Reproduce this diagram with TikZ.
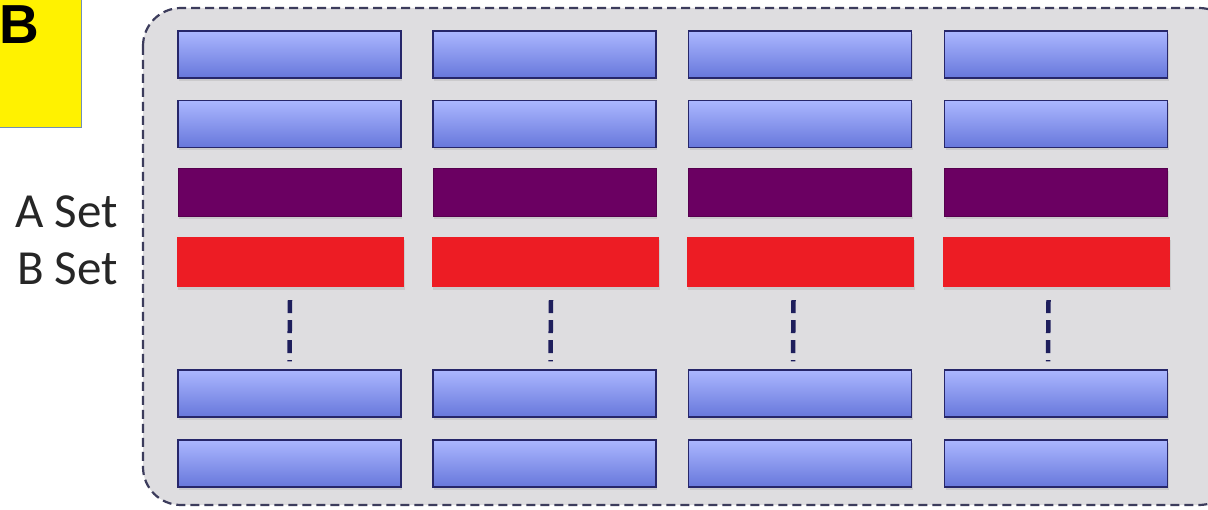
\documentclass[tikz,border=0pt]{standalone}
\usepackage{fontspec}
\setmainfont{Carlito}
\newfontfamily\tagfont{Liberation Sans}
\usepackage{xcolor}
\usepackage{tikz}
\usetikzlibrary{shadows}

\definecolor{panelgray}{HTML}{DEDDE0}
\definecolor{panelline}{HTML}{3C3C5C}
\definecolor{bartop}{HTML}{ABB7FF}
\definecolor{barbot}{HTML}{6777DB}
\definecolor{barline}{HTML}{26266A}
\definecolor{asetcol}{HTML}{6B0062}
\definecolor{bsetcol}{HTML}{ED1C24}
\definecolor{gapline}{HTML}{1E1E5C}
\definecolor{tagyellow}{HTML}{FFF200}
\definecolor{tagedge}{HTML}{7090B8}

\begin{document}
\begin{tikzpicture}[x=1pt, y=-1pt,
        panel/.style={fill=panelgray, draw=panelline, line width=2.2pt, dash pattern=on 9pt off 5pt, rounded corners=38pt},
        bar/.style={draw=barline, line width=1.2pt, minimum width=223pt, minimum height=47pt, inner sep=0pt,
            top color=bartop, bottom color=barbot, drop shadow={opacity=0.2, shadow xshift=1pt, shadow yshift=-3pt}},
        abar/.style={fill=asetcol, draw=asetcol!80!black, line width=1pt, minimum width=223pt, minimum height=48pt, inner sep=0pt,
            drop shadow={opacity=0.2, shadow xshift=1pt, shadow yshift=-3pt}},
        bbar/.style={fill=bsetcol, minimum width=227pt, minimum height=50pt, inner sep=0pt,
            drop shadow={opacity=0.2, shadow xshift=1pt, shadow yshift=-3pt}},
        gap/.style={draw=gapline, line width=4.5pt, dash pattern=on 13pt off 7pt},
        setlabel/.style={inner sep=0pt, text=black!85, font=\fontsize{49}{58}\selectfont}
    ]
        \useasboundingbox (0,0) rectangle (1208,510);
        \fill[white] (0,0) rectangle (1208,510);

        \draw[panel] (143,8) rectangle (1237,505);

        % yellow tag
        \draw[fill=tagyellow, draw=tagedge, line width=1pt] (-2,-2) rectangle (81,128);
        \node[anchor=base west, inner sep=0pt, font=\tagfont\bfseries\fontsize{55}{64}\selectfont] (tag) at (-1,44) {B};

        \node[setlabel, anchor=base east] (alabel) at (118,228) {A Set};
        \node[setlabel, anchor=base east] (blabel) at (118,285) {B Set};

        \foreach \c/\x/\d in {1/289.5/0, 2/544.5/6, 3/800/-7, 4/1056/-8} {
            \node[bar] (top\c) at (\x,54.5) {};
            \node[bar] (sec\c) at (\x,124) {};
            \node[abar] (a\c) at (\x,192.5) {};
            \node[bbar] (b\c) at (\x+0.5,262) {};
            \node[bar] (low\c) at (\x,393.5) {};
            \node[bar] (bot\c) at (\x,463.5) {};
            \draw[gap] ([xshift=\d pt, yshift=-13pt]b\c.south) -- ([xshift=\d pt, yshift=8pt]low\c.north);
        }
    \end{tikzpicture}
\end{document}
